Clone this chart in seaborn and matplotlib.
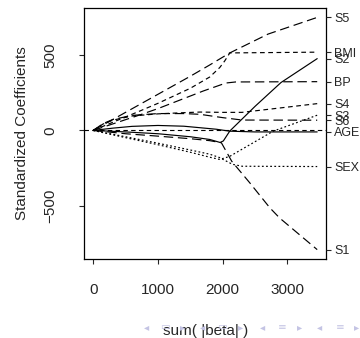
import numpy as np
import pandas as pd
import matplotlib
matplotlib.use("Agg")
import matplotlib.pyplot as plt
import seaborn as sns

# coefficient paths (x = sum |beta|, y = coefficient)
age_x = [0, 300, 600, 1000, 1400, 1650, 1900, 2110, 2500, 3460]
age_y = [0, 15, 27, 33, 28, 18, 8, -5, -10, -10]

sex_x = [0, 500, 1000, 1500, 1800, 1950, 2150, 2300, 3460]
sex_y = [0, -42, -85, -130, -158, -180, -225, -238, -240]

bmi_x = [0, 721, 1000, 1500, 1800, 1955, 2032, 2110, 3460]
bmi_y = [0, 129, 180, 280, 355, 418, 462, 515, 520]

bp_x = [0, 700, 1000, 1700, 2050, 2200, 3460]
bp_y = [0, 100, 145, 262, 315, 322, 324]

s1_x = [0, 500, 1000, 1500, 1800, 1980, 2140, 2420, 2730, 2880, 3460]
s1_y = [0, -22, -38, -55, -68, -82, -205, -349, -515, -582, -792]

s2_x = [0, 500, 1000, 1500, 1800, 1960, 2010, 2110, 2500, 2900, 3460]
s2_y = [0, -10, -22, -42, -60, -80, -70, -4, 160, 318, 477]

s3_x = [0, 500, 1000, 1500, 1800, 1955, 2110, 2780, 3460]
s3_y = [0, -48, -95, -145, -178, -193, -172, -5, 101]

s4_x = [0, 150, 300, 600, 1000, 1400, 1650, 2000, 2300, 3460]
s4_y = [0, 42, 68, 96, 110, 118, 122, 120, 120, 178]

s5_x = [0, 1000, 1500, 1800, 2110, 2700, 3460]
s5_y = [0, 240, 360, 435, 515, 640, 751]

s6_x = [0, 150, 300, 600, 1000, 1400, 1650, 2000, 2300, 3460]
s6_y = [0, 45, 72, 100, 112, 112, 107, 85, 69, 68]

names = ["AGE", "SEX", "BMI", "BP", "S1", "S2", "S3", "S4", "S5", "S6"]
paths = [(age_x, age_y), (sex_x, sex_y), (bmi_x, bmi_y), (bp_x, bp_y),
         (s1_x, s1_y), (s2_x, s2_y), (s3_x, s3_y), (s4_x, s4_y),
         (s5_x, s5_y), (s6_x, s6_y)]
styles = {"AGE": "-", "S2": "-",
          "SEX": (0, (1.5, 2.0)), "S3": (0, (1.5, 2.0)),
          "BMI": (0, (4, 3)), "S4": (0, (4, 3)),
          "BP": (0, (8, 4)), "S5": (0, (8, 4)), "S1": (0, (8, 4)), "S6": (0, (8, 4))}

sns.set_style("ticks")
plt.rcParams['font.family'] = ['Liberation Sans', 'DejaVu Sans']

fig = plt.figure(figsize=(3.6, 3.38), dpi=100)
ax = fig.add_axes([0.234, 0.234, 0.672, 0.742])

for name, (xs, ys) in zip(names, paths):
    df = pd.DataFrame({"x": xs, "y": ys})
    sns.lineplot(data=df, x="x", y="y", ax=ax, color="black", lw=0.85,
                 linestyle=styles[name], estimator=None)

ax.axhline(0, color="black", lw=0.8, linestyle=(0, (4, 3)))

xmax = 3460
ymin, ymax = -792, 751
ax.set_xlim(-0.04 * xmax, xmax * 1.04)
ax.set_ylim(ymin - 0.04 * (ymax - ymin), ymax + 0.04 * (ymax - ymin))

ax.set_xticks([0, 1000, 2000, 3000])
ax.set_yticks([-500, 0, 500])
ax.set_yticklabels(["\u2212500", "0", "500"], rotation=90, va="center")
ax.tick_params(axis="x", length=3.6, width=0.8, pad=14, labelsize=11)
ax.tick_params(axis="y", length=3.6, width=0.8, pad=16, labelsize=11)
ax.set_xlabel("sum( |beta| )", fontsize=11, labelpad=19)
ax.set_ylabel("Standardized Coefficients", fontsize=11, labelpad=10)
for sp in ax.spines.values():
    sp.set_linewidth(0.9)
    sp.set_color("black")

ax2 = ax.twinx()
ax2.set_ylim(ax.get_ylim())
ends = [ys[-1] for xs, ys in paths]
ax2.set_yticks(ends)
ax2.set_yticklabels(names)
ax2.tick_params(axis="y", length=3.6, width=0.8, pad=2, labelsize=9)
for sp in ax2.spines.values():
    sp.set_visible(False)

# beamer navigation symbols
nav = ["\u25c2", "\u25ad", "\u25b8", "\u25c2", "\u25ad", "\u25b8",
       "\u25c2", "\u2261", "\u25b8", "\u25c2", "\u2261", "\u25b8"]
nav_x = [147, 165, 183, 203, 222, 241, 263, 282, 300, 320, 340, 357]
for s, px in zip(nav, nav_x):
    fig.text(px / 360, 1 - 327 / 338, s, fontsize=7.5, color="#c4c4e4",
             family="DejaVu Sans", ha="center", va="center", zorder=0)

fig.savefig("out.png", dpi=100)
